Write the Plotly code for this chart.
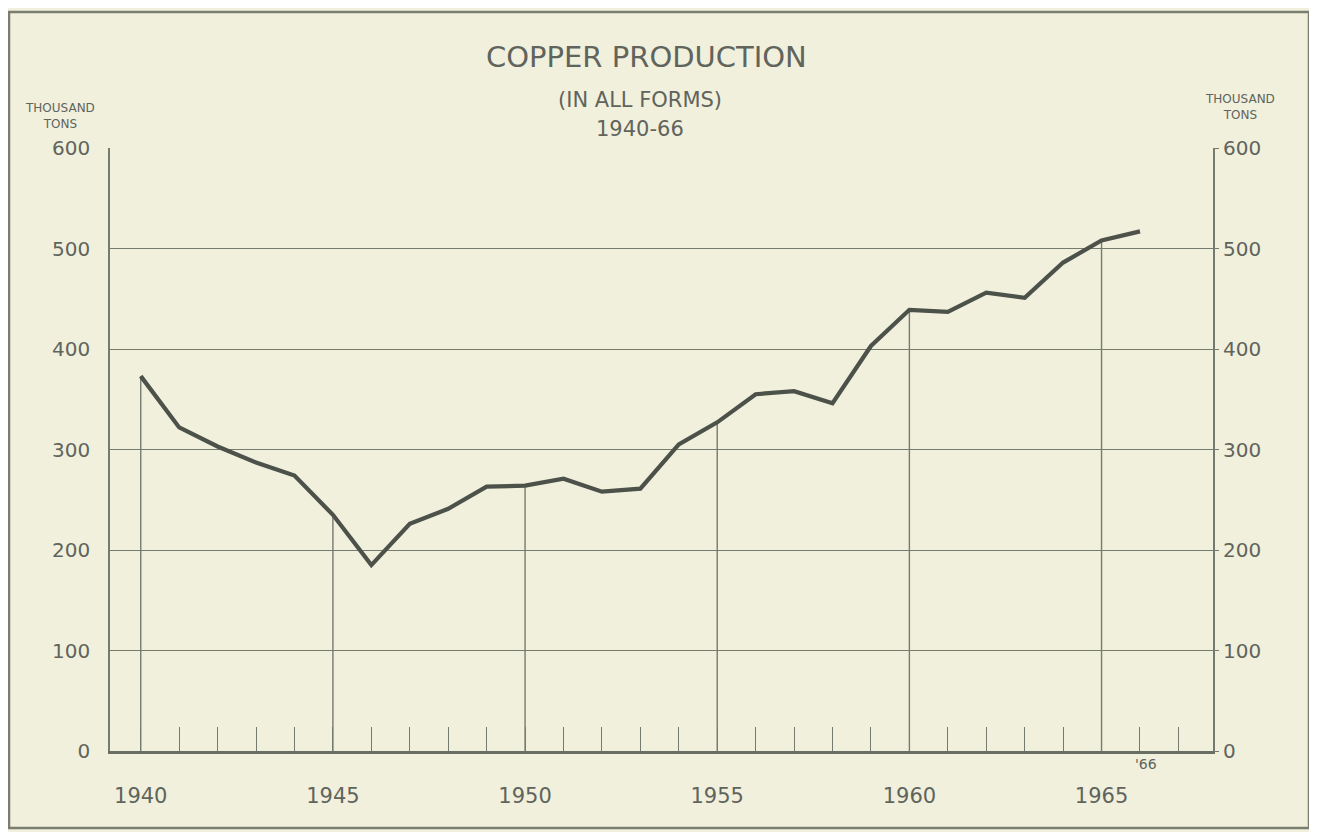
import plotly.graph_objects as go

# ---- data ----
years = list(range(1940, 1967))
production = [373, 322, 303, 287, 274, 235, 185, 226, 241, 263,
              264, 271, 258, 261, 305, 327, 355, 358, 346, 403,
              439, 437, 456, 451, 486, 508, 517]
tick_years = list(range(1940, 1968))
label_years = [1940, 1945, 1950, 1955, 1960, 1965]
y_ticks = [0, 100, 200, 300, 400, 500, 600]

# ---- geometry helpers (reference pixel -> paper) ----
OFF = 8  # browser body margin
W, H = 1317 - OFF, 832 - OFF
ML, MT = 110 - OFF, 148 - OFF
MR = (W + OFF) - 1213
MB = (H + OFF) - 751
PW = W - ML - MR
PH = H - MT - MB


def px(x):
    return (x - OFF - ML) / PW


def py(y):
    return (H - MB - (y - OFF)) / PH


BG = "#f1f0dc"
GRID = "#767b70"
INK = "#4c514a"
TXT = "#60645c"
FONT = "DejaVu Sans"

fig = go.Figure()

# vertical grid segments from the axis up to the curve at 5-year marks
vx, vy = [], []
for yr in label_years:
    v = production[years.index(yr)]
    vx += [yr, yr, None]
    vy += [0, v, None]
fig.add_trace(go.Scatter(x=vx, y=vy, mode="lines",
                         line=dict(color=GRID, width=1.4),
                         hoverinfo="skip", showlegend=False))

# production line
fig.add_trace(go.Scatter(x=years, y=production, mode="lines",
                         line=dict(color=INK, width=4.2),
                         showlegend=False))

# invisible trace for right axis
fig.add_trace(go.Scatter(x=years, y=production, mode="lines", yaxis="y2",
                         line=dict(color="rgba(0,0,0,0)", width=0),
                         hoverinfo="skip", showlegend=False))

ticktext = [str(y) if y in label_years else "" for y in tick_years]

fig.update_layout(
    width=W, height=H,
    margin=dict(l=ML, r=MR, t=MT, b=MB),
    paper_bgcolor=BG, plot_bgcolor=BG,
    font=dict(family=FONT, color=TXT),
    xaxis=dict(range=[1939.2, 1967.9], tickmode="array",
               tickvals=tick_years, ticktext=ticktext,
               ticks="inside", ticklen=24, tickwidth=1.4, tickcolor=GRID,
               showgrid=False, zeroline=False,
               showline=True, linecolor="#6a6f66", linewidth=2.6,
               tickfont=dict(size=21, color=TXT, family=FONT),
               ticklabelstandoff=24),
    yaxis=dict(range=[0, 600], tickmode="array", tickvals=y_ticks,
               showgrid=True, gridcolor=GRID, gridwidth=1.4,
               zeroline=False, showline=True, mirror=True,
               linecolor=GRID, linewidth=1.6, ticks="",
               tickfont=dict(size=20, color=TXT, family=FONT),
               ticklabelstandoff=14),
    yaxis2=dict(range=[0, 600], tickmode="array", tickvals=y_ticks,
                overlaying="y", side="right", showgrid=False,
                zeroline=False, showline=False, ticks="outside",
                ticklen=5, tickcolor=GRID, tickwidth=1.4,
                tickfont=dict(size=20, color=TXT, family=FONT)),
)


def note(text, x, y, size, xref="paper"):
    return dict(text=text, x=x, y=py(y), xref=xref, yref="paper",
                xanchor="center", yanchor="middle", align="center",
                showarrow=False, font=dict(size=size, color=TXT, family=FONT))


ann = [
    note("COPPER PRODUCTION", px(646), 57, 29),
    note("(IN ALL FORMS)", px(640), 100, 21),
    note("1940-66", px(640), 129, 21),
    note("THOUSAND<br>TONS", px(60), 116, 12),
    note("THOUSAND<br>TONS", px(1240), 107, 12),
    note("'66", 1966.15, 764, 14, xref="x"),
]
fig.update_layout(annotations=ann)

# page border
fig.add_shape(type="rect", xref="paper", yref="paper",
              x0=px(9), x1=px(1309), y0=py(828), y1=py(12),
              line=dict(color="#7a7d70", width=2.5), layer="below")

fig.write_html("out.html")
